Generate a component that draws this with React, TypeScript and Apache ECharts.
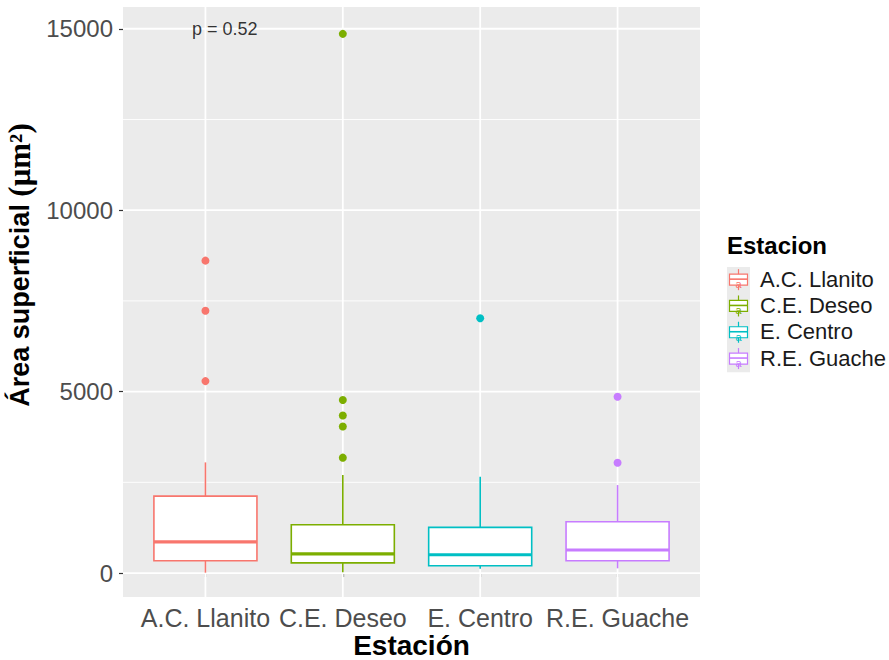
import React, { useEffect, useRef } from "react";
import * as echarts from "echarts";

const categories = ["A.C. Llanito", "C.E. Deseo", "E. Centro", "R.E. Guache"];
const colors = ["#F8766D", "#7CAE00", "#00BFC4", "#C77CFF"];
const whiskerLow = [10, 20, 120, 130];
const q1 = [340, 280, 200, 340];
const median = [860, 530, 505, 635];
const q3 = [2120, 1330, 1260, 1415];
const whiskerHigh = [3050, 2700, 2655, 2425];
const outliersAC = [8610, 7230, 5290];
const outliersCE = [14860, 4770, 4340, 4040, 3180];
const outliersEC = [7020];
const outliersRE = [4860, 3040];
const outliers = [outliersAC, outliersCE, outliersEC, outliersRE];
const yMajorTicks = [0, 5000, 10000, 15000];
const yMinorLines = [2500, 7500, 12500];
const pLabel = "p = 0.52";
const legendTitle = "Estacion";
const xTitle = "Estación";

const SANS = "'Liberation Sans', Arial, sans-serif";
const SERIF = "'Liberation Serif', 'DejaVu Serif', serif";

export default function App() {
  const ref = useRef<HTMLDivElement>(null);
  useEffect(() => {
    if (!ref.current) return;
    const chart = echarts.init(ref.current, undefined, { renderer: "svg" });
    const xPos = categories.map((_, i) => i + 1);

    const gridData: number[][] = [];
    yMajorTicks.forEach((v) => gridData.push([1, v, 0]));
    yMinorLines.forEach((v) => gridData.push([1, v, 1]));
    xPos.forEach((v) => gridData.push([v, 0, 2]));

    const legendX = 727;
    const legendTop = 267;
    const keyH = 26.3;
    const graphics: any[] = [
      {
        type: "text",
        x: 411.5,
        y: 645,
        style: {
          text: xTitle,
          font: `bold 28px ${SANS}`,
          fill: "#000",
          align: "center",
          verticalAlign: "middle",
        },
      },
      {
        type: "text",
        left: legendX,
        top: 233,
        style: { text: legendTitle, font: `bold 24px ${SANS}`, fill: "#000" },
      },
      {
        type: "rect",
        shape: { x: legendX, y: legendTop, width: 23, height: keyH * 4 },
        style: { fill: "#EBEBEB" },
      },
    ];
    categories.forEach((c, i) => {
      const cy = legendTop + keyH * i + keyH / 2;
      const cx = legendX + 11.5;
      const col = colors[i];
      graphics.push(
        { type: "line", shape: { x1: cx, y1: cy - 11, x2: cx, y2: cy + 10 }, style: { stroke: col, lineWidth: 1.2 } },
        { type: "rect", shape: { x: cx - 9, y: cy - 6, width: 18, height: 11 }, style: { fill: "#fff", stroke: col, lineWidth: 1.2 } },
        { type: "line", shape: { x1: cx - 9, y1: cy - 1, x2: cx + 9, y2: cy - 1 }, style: { stroke: col, lineWidth: 1.6 } },
        { type: "text", x: cx, y: cy + 4, style: { text: "a", font: `11px ${SANS}`, fill: col, align: "center", verticalAlign: "middle" } },
        { type: "text", left: legendX + 33, top: cy - 12, style: { text: c, font: `22px ${SANS}`, fill: "#1A1A1A" } }
      );
    });

    const option: any = {
      animation: false,
      backgroundColor: "#fff",
      grid: {
        left: 123,
        right: 189,
        top: 7,
        bottom: 63,
        show: true,
        backgroundColor: "#EBEBEB",
        borderWidth: 0,
        containLabel: false,
        outerBoundsMode: "none",
      },
      xAxis: {
        type: "value",
        min: 0.4,
        max: 4.6,
        splitLine: { show: false },
        axisLine: { show: false },
        axisTick: { show: true, customValues: xPos, length: 4, lineStyle: { color: "#333", width: 1.2 } },
        axisLabel: {
          customValues: xPos,
          formatter: (v: number) => categories[Math.round(v) - 1] ?? "",
          fontSize: 25,
          fontFamily: SANS,
          color: "#4D4D4D",
          margin: 8,
        },
      },
      yAxis: {
        type: "value",
        min: -660,
        max: 15600,
        splitLine: { show: false },
        axisLine: { show: false },
        axisTick: { show: true, customValues: yMajorTicks, length: 4, lineStyle: { color: "#333", width: 1.2 } },
        axisLabel: {
          customValues: yMajorTicks,
          formatter: (v: number) => String(v),
          fontSize: 24,
          fontFamily: SANS,
          color: "#4D4D4D",
          margin: 10,
        },
        name: "{a|Área superficial }{b|(μm²)}",
        nameLocation: "middle",
        nameGap: 84,
        nameRotate: 90,
        nameTextStyle: {
          padding: [0, 0, 0, 74],
          rich: {
            a: { fontSize: 27, fontWeight: "bold", fontFamily: SANS, color: "#000" },
            b: { fontSize: 31, fontWeight: "bold", fontFamily: SERIF, color: "#000" },
          },
        },
      },
      graphic: graphics,
      series: [
        {
          type: "custom",
          name: "grid",
          silent: true,
          z: 1,
          data: gridData,
          renderItem: (params: any, api: any) => {
            const cs = params.coordSys;
            const kind = api.value(2);
            if (kind === 2) {
              const x = api.coord([api.value(0), 0])[0];
              return {
                type: "line",
                shape: { x1: x, y1: cs.y, x2: x, y2: cs.y + cs.height },
                style: { stroke: "#fff", lineWidth: 1.8 },
              };
            }
            const y = api.coord([1, api.value(1)])[1];
            return {
              type: "line",
              shape: { x1: cs.x, y1: y, x2: cs.x + cs.width, y2: y },
              style: { stroke: "#fff", lineWidth: kind === 0 ? 1.8 : 0.9 },
            };
          },
        },
        {
          type: "custom",
          name: "boxes",
          z: 2,
          encode: { x: 0, y: [1, 2, 3, 4, 5] },
          data: xPos.map((x, i) => [x, whiskerLow[i], q1[i], median[i], q3[i], whiskerHigh[i]]),
          renderItem: (params: any, api: any) => {
            const i = params.dataIndex;
            const col = colors[i];
            const x = api.value(0);
            const half = api.size([0.75, 0])[0] / 2;
            const cx = api.coord([x, 0])[0];
            const yLow = api.coord([x, api.value(1)])[1];
            const yQ1 = api.coord([x, api.value(2)])[1];
            const yMed = api.coord([x, api.value(3)])[1];
            const yQ3 = api.coord([x, api.value(4)])[1];
            const yHigh = api.coord([x, api.value(5)])[1];
            return {
              type: "group",
              children: [
                { type: "line", shape: { x1: cx, y1: yQ3, x2: cx, y2: yHigh }, style: { stroke: col, lineWidth: 1.6 } },
                { type: "line", shape: { x1: cx, y1: yQ1, x2: cx, y2: yLow }, style: { stroke: col, lineWidth: 1.6 } },
                {
                  type: "rect",
                  shape: { x: cx - half, y: yQ3, width: half * 2, height: yQ1 - yQ3 },
                  style: { fill: "#fff", stroke: col, lineWidth: 1.6 },
                },
                { type: "line", shape: { x1: cx - half, y1: yMed, x2: cx + half, y2: yMed }, style: { stroke: col, lineWidth: 3.2 } },
              ],
            };
          },
        },
        ...outliers.map((vals, i) => ({
          type: "scatter",
          name: categories[i],
          z: 3,
          symbol: "circle",
          symbolSize: 8,
          itemStyle: { color: colors[i], opacity: 1 },
          data: vals.map((v) => [i + 1, v]),
        })),
        {
          type: "scatter",
          name: "p",
          z: 4,
          symbolSize: 0,
          data: [[1.14, 15000]],
          label: {
            show: true,
            position: "inside",
            formatter: pLabel,
            fontSize: 18,
            fontFamily: SANS,
            color: "#000",
          },
        },
      ],
    };
    chart.setOption(option);
    return () => chart.dispose();
  }, []);
  return <div ref={ref} style={{ position: "fixed", left: 0, top: 0, width: 889, height: 660 }} />;
}
